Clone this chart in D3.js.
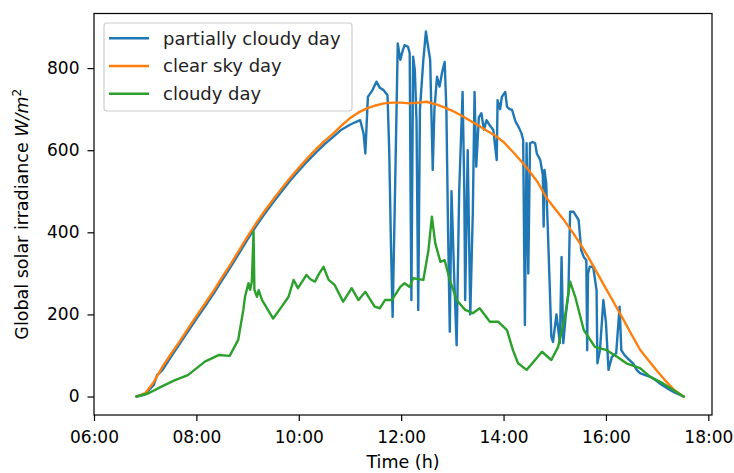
<!DOCTYPE html>
<html><head><meta charset="utf-8">
<script src="https://cdn.jsdelivr.net/npm/d3@7"></script>
<style>body{margin:0;background:#fff} text{font-family:"DejaVu Sans",sans-serif}</style>
</head><body><svg id="c" width="734" height="473"></svg>
<script>
const seriesNames = ["partially cloudy day", "clear sky day", "cloudy day"];
const seriesColors = ["#1f77b4", "#ff7f0e", "#2ca02c"];
const xTickLabels = ["06:00","08:00","10:00","12:00","14:00","16:00","18:00"];
const yTicks = [0, 200, 400, 600, 800];

const partlyTimes = ["06:50","07:00","07:10","07:14","07:16","07:20","07:30","07:40","07:50","08:00","08:10","08:20","08:30","08:40","08:50","09:00","09:10","09:20","09:30","09:40","09:50","10:00","10:10","10:20","10:30","10:40","10:50","11:00","11:06","11:12","11:16","11:18","11:21","11:26","11:31","11:35","11:39","11:44","11:46","11:48","11:50","11:53","11:56","11:59","12:02","12:04","12:08","12:10","12:11","12:12","12:14","12:16","12:18","12:20","12:22","12:26","12:29","12:31","12:34","12:37","12:39","12:42","12:45","12:48","12:51","12:53","12:55","12:57","12:59","13:02","13:05","13:08","13:12","13:14","13:15","13:18","13:21","13:24","13:26","13:28","13:31","13:34","13:37","13:40","13:44","13:48","13:52","13:53","13:56","13:58","14:02","14:04","14:07","14:10","14:14","14:18","14:21","14:23","14:25","14:27","14:29","14:31","14:34","14:37","14:39","14:43","14:46","14:47","14:48","14:50","14:52","14:54","14:56","14:58","15:02","15:06","15:08","15:10","15:13","15:16","15:18","15:22","15:25","15:28","15:31","15:34","15:37","15:38","15:39","15:41","15:45","15:49","15:50","15:53","15:57","16:00","16:03","16:07","16:12","16:16","16:18","16:22","16:27","16:32","16:36","16:40","16:46","16:52","16:58","17:03","17:09","17:15","17:22","17:31"];
const partlyValues = [0,5,28,52,56,64,96,127,158,189,219,250,283,315,349,383,415,445,473,500,526,550,573,594,614,632,650,662,668,673,640,592,730,745,767,752,747,734,600,373,194,520,860,820,844,856,852,836,500,235,828,795,673,211,700,820,889,860,820,552,700,779,755,790,815,698,400,158,500,300,125,500,742,500,235,600,200,450,742,560,680,690,650,673,660,649,576,722,700,730,742,706,700,698,670,655,641,625,174,617,300,617,620,617,592,576,540,414,552,519,400,276,146,133,200,130,340,130,200,251,450,450,440,430,357,340,332,113,300,316,316,259,81,113,235,180,65,97,105,219,113,100,90,80,65,57,52,48,40,32,24,16,8,0];

const clearTimes = ["06:50","07:00","07:10","07:20","07:30","07:40","07:50","08:00","08:10","08:20","08:30","08:40","08:50","09:00","09:10","09:20","09:30","09:40","09:50","10:00","10:10","10:20","10:30","10:40","10:50","11:00","11:10","11:20","11:30","11:40","11:50","12:00","12:10","12:20","12:30","12:40","12:50","13:00","13:10","13:20","13:30","13:40","13:50","14:00","14:10","14:20","14:30","14:40","14:50","15:00","15:10","15:20","15:30","15:40","15:50","16:00","16:10","16:20","16:30","16:40","16:50","17:00","17:10","17:20","17:31"];
const clearValues = [0,8,35,72,103,133,165,196,226,257,290,322,356,390,422,452,480,507,533,557,580,602,622,640,660,678,692,702,709,714,716,716,714,716,718,712,705,696,685,673,661,648,636,620,598,575,550,522,485,458,432,403,372,337,300,263,226,189,151,114,88,62,38,16,0];

const cloudyTimes = ["06:50","07:04","07:19","07:35","07:50","08:10","08:26","08:39","08:49","08:55","08:57","09:01","09:03","09:05","09:07","09:08","09:11","09:13","09:17","09:30","09:40","09:48","09:54","09:59","10:04","10:09","10:14","10:19","10:24","10:29","10:35","10:42","10:52","11:02","11:10","11:18","11:29","11:35","11:41","11:49","11:59","12:04","12:10","12:14","12:26","12:32","12:36","12:40","12:46","12:51","12:57","13:05","13:15","13:24","13:32","13:44","13:54","14:04","14:11","14:17","14:27","14:37","14:45","14:56","15:04","15:12","15:18","15:24","15:34","15:47","16:01","16:13","16:24","16:40","16:52","17:07","17:19","17:31"];
const cloudyValues = [0,8,24,40,52,85,101,99,138,211,243,276,260,280,401,260,243,259,235,190,219,243,284,264,280,296,285,280,300,316,284,272,231,264,235,255,219,215,235,235,267,276,267,288,284,357,438,373,328,332,284,235,211,203,215,182,182,162,113,81,65,89,109,89,121,194,280,243,162,121,113,97,81,69,48,32,16,0];

const toMin = s => { const p = s.split(":").map(Number); return p[0]*60 + p[1]; };
const fmt = m => String(Math.floor(m/60)).padStart(2,"0") + ":" + String(m%60).padStart(2,"0");

const W = 734, H = 473;
const L = 94, R = 712, T = 13.5, B = 415;
const svg = d3.select("#c");
svg.append("rect").attr("width", W).attr("height", H).attr("fill", "#fff");

const x = d3.scaleLinear().domain([360, 1084.3]).range([L, R]);
const y = d3.scaleLinear().domain([-45, 933]).range([B, T]);

const series = [
  {name: seriesNames[0], color: seriesColors[0], t: partlyTimes, v: partlyValues},
  {name: seriesNames[1], color: seriesColors[1], t: clearTimes, v: clearValues},
  {name: seriesNames[2], color: seriesColors[2], t: cloudyTimes, v: cloudyValues}
];

const line = d3.line().x(d => x(d[0])).y(d => y(d[1]));
series.forEach(s => {
  const pts = s.t.map((t, i) => [toMin(t), s.v[i]]);
  svg.append("path").attr("d", line(pts)).attr("fill", "none")
    .attr("stroke", s.color).attr("stroke-width", 2.4)
    .attr("stroke-linejoin", "round").attr("stroke-linecap", "square");
});

// axes
const xAxis = d3.axisBottom(x).tickValues(xTickLabels.map(toMin)).tickFormat(fmt)
  .tickSize(6).tickSizeOuter(0).tickPadding(10);
const gx = svg.append("g").attr("transform", `translate(0,${B})`).call(xAxis);
gx.select(".domain").remove();
gx.selectAll("line").attr("stroke", "#000").attr("stroke-width", 1.2);
gx.selectAll("text").attr("font-size", 17).attr("fill", "#000").attr("font-family", "DejaVu Sans");

const yAxis = d3.axisLeft(y).tickValues(yTicks).tickSize(6.5).tickSizeOuter(0).tickPadding(8);
const gy = svg.append("g").attr("transform", `translate(${L},0)`).call(yAxis);
gy.select(".domain").remove();
gy.selectAll("line").attr("stroke", "#000").attr("stroke-width", 1.2);
gy.selectAll("text").attr("font-size", 17).attr("fill", "#000").attr("font-family", "DejaVu Sans");

svg.append("rect").attr("x", L).attr("y", T).attr("width", R - L).attr("height", B - T)
  .attr("fill", "none").attr("stroke", "#000").attr("stroke-width", 1.2);

// labels
svg.append("text").attr("x", (L + R) / 2).attr("y", 468).attr("text-anchor", "middle")
  .attr("font-size", 17.5).attr("fill", "#000").text("Time (h)");
const yl = svg.append("text").attr("transform", `translate(28,${(T + B) / 2}) rotate(-90)`)
  .attr("text-anchor", "middle").attr("font-size", 17.5).attr("fill", "#000");
yl.append("tspan").text("Global solar irradiance ");
yl.append("tspan").attr("font-style", "italic").text("W/m");
yl.append("tspan").attr("font-size", 12).attr("dy", -7).text("2");

// legend
const lg = svg.append("g");
lg.append("rect").attr("x", 104).attr("y", 23).attr("width", 248).attr("height", 88)
  .attr("rx", 3).attr("fill", "#fff").attr("fill-opacity", 0.8).attr("stroke", "#cccccc").attr("stroke-width", 1.2);
series.forEach((s, i) => {
  const yy = 38.3 + i * 27.7;
  lg.append("line").attr("x1", 109).attr("x2", 149).attr("y1", yy).attr("y2", yy)
    .attr("stroke", s.color).attr("stroke-width", 2.4);
  lg.append("text").attr("x", 163).attr("y", yy + 6.3).attr("font-size", 18).attr("fill", "#222").text(s.name);
});
</script></body></html>
